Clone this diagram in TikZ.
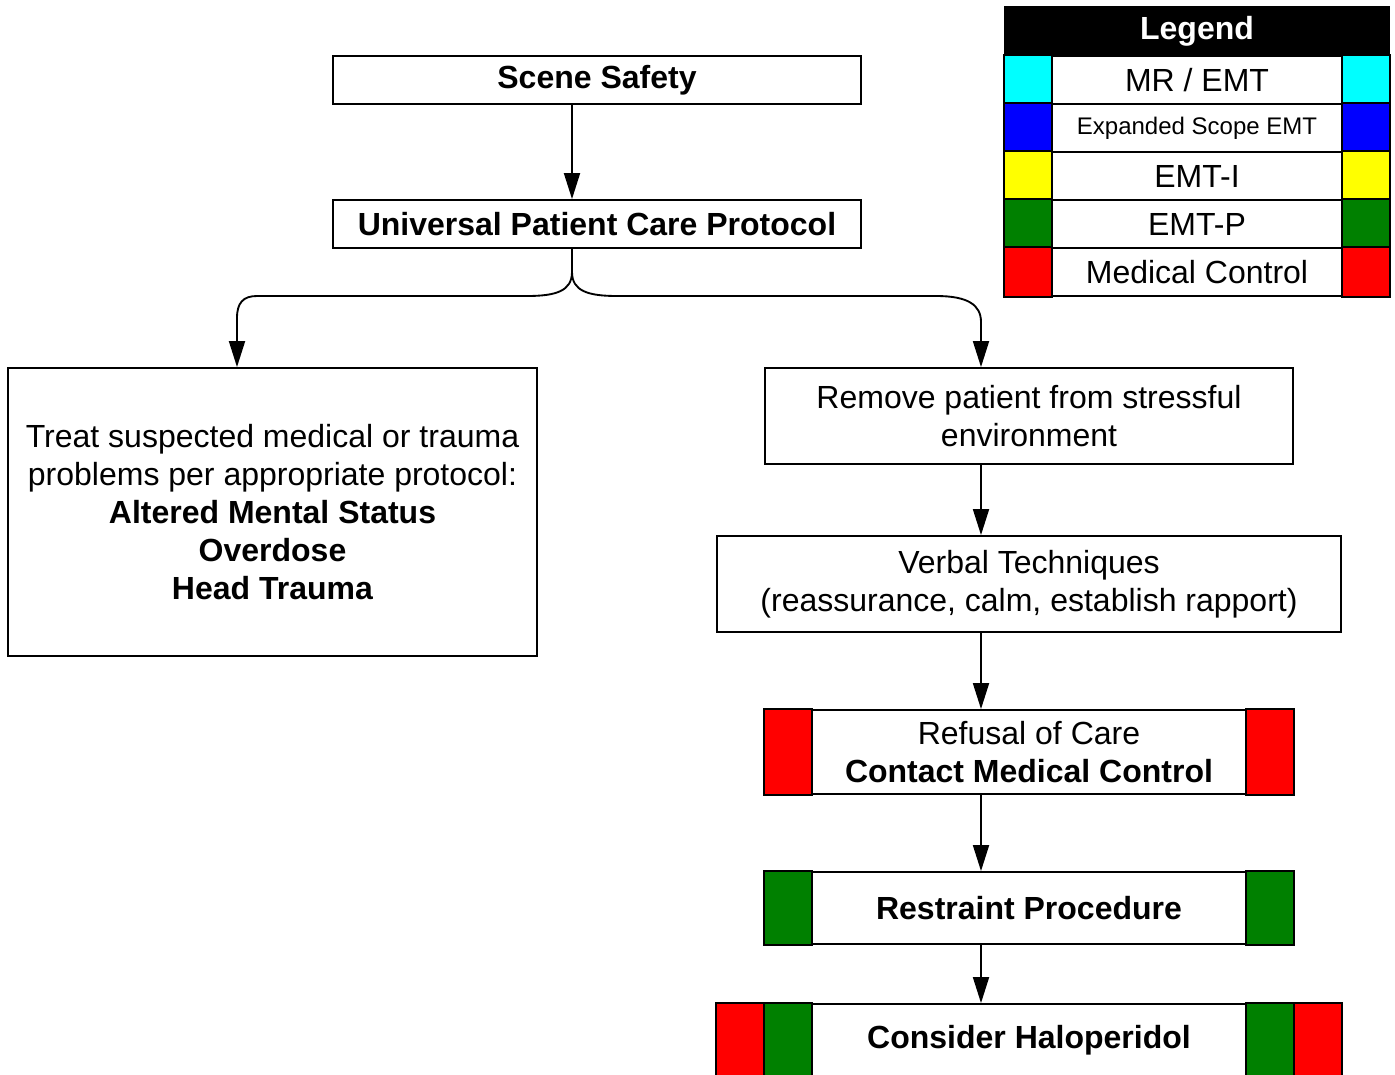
\documentclass[tikz,border=0pt]{standalone}
\usepackage{fontspec}
\setmainfont{Liberation Sans}
\usetikzlibrary{arrows.meta}
\definecolor{cgreen}{RGB}{0,128,0}
\definecolor{ccyan}{RGB}{0,255,255}
\definecolor{cblue}{RGB}{0,0,255}
\definecolor{cyellow}{RGB}{255,255,0}
\definecolor{cred}{RGB}{255,0,0}
\begin{document}
\begin{tikzpicture}[x=0.75pt,y=-0.75pt,
  every node/.style={font=\fontsize{24}{28.5}\selectfont, align=center, inner sep=0pt},
  box/.style={draw, line width=1.4pt, fill=white},
  conn/.style={line width=1.4pt, -{Triangle[length=19.5pt,width=12pt]}},
  strip/.style={draw, line width=1.4pt},
]
\useasboundingbox (0,0) rectangle (1395,1074);
\begin{scope}
\clip (0,0) rectangle (1395,1074);
% column coordinates for connectors
\coordinate (ax) at (572,0);
\coordinate (lx) at (237,0);
\coordinate (rx) at (981,0);

% main flow
\node[box, minimum width=396pt, minimum height=36pt] (ss) at (597,80) {\textbf{Scene Safety}};
\node[box, minimum width=396pt, minimum height=36pt] (upcp) at (597,224) {\textbf{Universal Patient Care Protocol}};
\node[box, minimum width=396.75pt, minimum height=216pt] (lbox) at (272.5,512)
  {Treat suspected medical or trauma\\problems per appropriate protocol:\\\textbf{Altered Mental Status}\\\textbf{Overdose}\\\textbf{Head Trauma}};
\node[box, minimum width=396pt, minimum height=72pt] (rem) at (1029,416) {Remove patient from stressful\\environment};
\node[box, minimum width=468pt, minimum height=72pt] (verb) at (1029,584) {Verbal Techniques\\(reassurance, calm, establish rapport)};
\node[box, minimum width=396pt, minimum height=63pt] (ref) at (1029,752) {Refusal of Care\\\textbf{Contact Medical Control}};
\node[box, minimum width=396pt, minimum height=54pt] (res) at (1029,908) {\textbf{Restraint Procedure}};
\node[box, minimum width=468pt, minimum height=54pt] (hal) at (1029,1040) {\textbf{Consider Haloperidol}};

% strips
\filldraw[strip, fill=cred] (ref.north west) rectangle ([xshift=36pt]ref.south west);
\filldraw[strip, fill=cred] (ref.north east) rectangle ([xshift=-36pt]ref.south east);
\filldraw[strip, fill=cgreen] (res.north west) rectangle ([xshift=36pt]res.south west);
\filldraw[strip, fill=cgreen] (res.north east) rectangle ([xshift=-36pt]res.south east);
\filldraw[strip, fill=cred] (hal.north west) rectangle ([xshift=36pt]hal.south west);
\filldraw[strip, fill=cgreen] ([xshift=36pt]hal.north west) rectangle ([xshift=72pt]hal.south west);
\filldraw[strip, fill=cred] (hal.north east) rectangle ([xshift=-36pt]hal.south east);
\filldraw[strip, fill=cgreen] ([xshift=-36pt]hal.north east) rectangle ([xshift=-72pt]hal.south east);

% connectors
\draw[conn] (ss.south -| ax) -- (upcp.north -| ax);
\draw[conn] (upcp.south -| ax) -- (572,272) .. controls (572,291) and (556,296) .. (527,296)
  -- (257,296) .. controls (243,296) and (237,303) .. (237,318) -- (lbox.north -| lx);
\draw[conn] (upcp.south -| ax) -- (572,272) .. controls (572,291) and (588,296) .. (617,296)
  -- (936,296) .. controls (968,296) and (981,305) .. (981,322) -- (rem.north -| rx);
\draw[conn] (rem.south -| rx) -- (verb.north -| rx);
\draw[conn] (verb.south -| rx) -- (ref.north -| rx);
\draw[conn] (ref.south -| rx) -- (res.north -| rx);
\draw[conn] (res.south -| rx) -- (hal.north -| rx);

% legend
\node[draw, line width=1.4pt, fill=black, text=white, minimum width=288.75pt, minimum height=36.75pt] (lg) at (1197,31.5) {\textbf{Legend}};
\node[box, minimum width=288pt, minimum height=36pt] (l1) at (1197,80) {MR / EMT};
\node[box, minimum width=288pt, minimum height=36pt, font=\fontsize{18}{21}\selectfont] (l2) at (1197,128) {Expanded Scope EMT};
\node[box, minimum width=288pt, minimum height=36pt] (l3) at (1197,176) {EMT-I};
\node[box, minimum width=288pt, minimum height=36pt] (l4) at (1197,224) {EMT-P};
\node[box, minimum width=288pt, minimum height=36pt] (l5) at (1197,272) {Medical Control};
\foreach \n/\c in {l1/ccyan, l2/cblue, l3/cyellow, l4/cgreen, l5/cred}{
  \filldraw[strip, fill=\c] (\n.north west) rectangle ([xshift=36pt]\n.south west);
  \filldraw[strip, fill=\c] (\n.north east) rectangle ([xshift=-36pt]\n.south east);
}
\end{scope}
\end{tikzpicture}
\end{document}
